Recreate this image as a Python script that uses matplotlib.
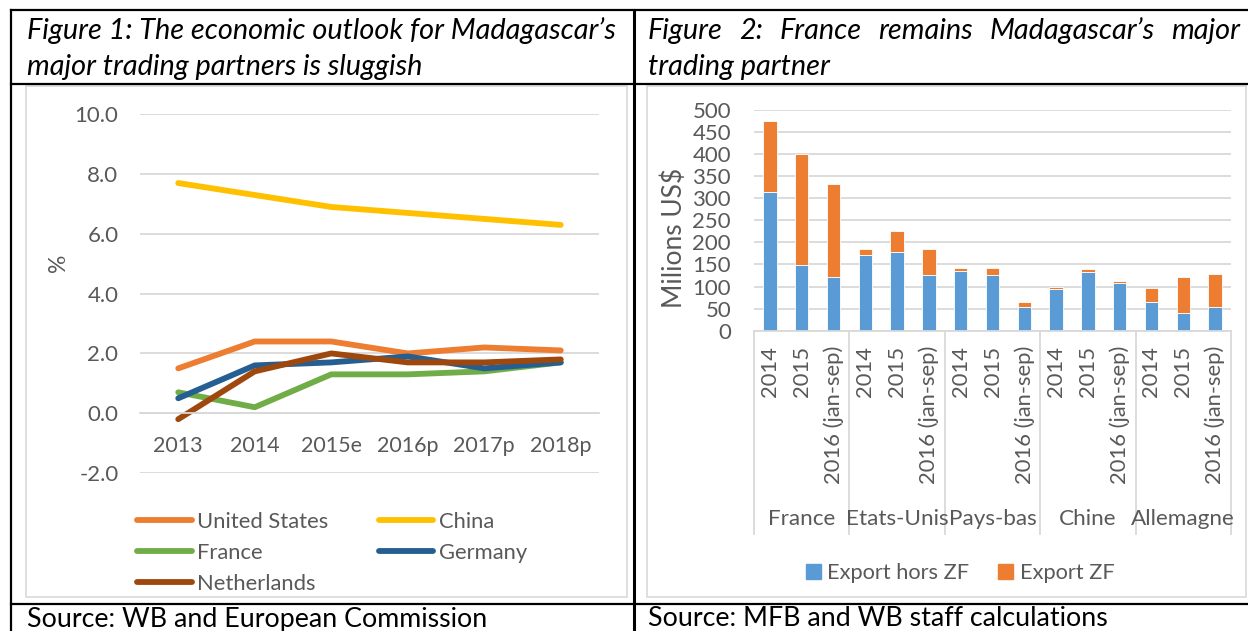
import matplotlib
matplotlib.use("Agg")
import matplotlib.pyplot as plt
from matplotlib.lines import Line2D
from matplotlib.patches import Rectangle, Patch
import numpy as np

plt.rcParams['font.family'] = ['Lato', 'DejaVu Sans']

# ---------------- data ----------------
years = ["2013", "2014", "2015e", "2016p", "2017p", "2018p"]
united_states = [1.5, 2.4, 2.4, 2.0, 2.2, 2.1]
china = [7.7, 7.3, 6.9, 6.7, 6.5, 6.3]
france = [0.7, 0.2, 1.3, 1.3, 1.4, 1.7]
germany = [0.5, 1.6, 1.7, 1.9, 1.5, 1.7]
netherlands = [-0.2, 1.4, 2.0, 1.7, 1.7, 1.8]

countries = ["France", "Etats-Unis", "Pays-bas", "Chine", "Allemagne"]
periods = ["2014", "2015", "2016 (jan-sep)"]
export_hors_zf = [315, 148, 122, 172, 178, 126, 136, 126, 54, 95, 134, 107, 64, 41, 54]
export_zf = [160, 252, 210, 12, 49, 59, 6, 16, 12, 3, 6, 6, 32, 80, 75]

title1 = ["Figure 1: The economic outlook for Madagascar\u2019s", "major trading partners is sluggish"]
title2_line1 = ["Figure", "2:", "France", "remains", "Madagascar\u2019s", "major"]
title2_line2 = "trading partner"
source1 = "Source: WB and European Commission"
source2 = "Source: MFB and WB staff calculations"

# ---------------- figure ----------------
W, H = 1248, 631
fig = plt.figure(figsize=(W / 100, H / 100), dpi=100)
fig.patch.set_facecolor("white")


def fx(px):
    return px / W


def fy(py):
    return 1 - py / H


TXT = "#595959"
GRID = "#D9D9D9"
FS = 15.5

# table lines
def hline(y, x0, x1, lw=1.6):
    fig.add_artist(Line2D([fx(x0), fx(x1)], [fy(y), fy(y)], color="black", lw=lw))


def vline(x, y0, y1, lw=1.6):
    fig.add_artist(Line2D([fx(x), fx(x)], [fy(y0), fy(y1)], color="black", lw=lw))

hline(10, 11, 1248)
hline(84, 11, 1248)
hline(604, 11, 1248)
vline(11, 10, 631)
vline(634, 10, 631, lw=2.2)

# chart frames
for (x0, x1) in [(26, 627), (647, 1246)]:
    fig.add_artist(Rectangle((fx(x0), fy(597)), fx(x1) - fx(x0), fy(86) - fy(597),
                             fill=False, edgecolor=GRID, lw=1.2))

# titles
tsize = 20.8
fig.text(fx(27), fy(31), title1[0], fontsize=tsize, style="italic", va="center", ha="left")
fig.text(fx(27), fy(67), title1[1], fontsize=tsize, style="italic", va="center", ha="left")
fig.text(fx(648), fy(67), title2_line2, fontsize=tsize, style="italic", va="center", ha="left")

# justified first line of title 2
words = [fig.text(0, fy(31), w, fontsize=tsize, style="italic", va="center", ha="left")
         for w in title2_line1]
fig.canvas.draw()
r = fig.canvas.get_renderer()
widths = [t.get_window_extent(r).width for t in words]
x_start, x_end = 648, 1240
gap = (x_end - x_start - sum(widths)) / (len(words) - 1)
xc = x_start
for t, wdt in zip(words, widths):
    t.set_x(fx(xc))
    xc += wdt + gap

ssize = 19.3
fig.text(fx(27), fy(619), source1, fontsize=ssize, va="center", ha="left")
fig.text(fx(648), fy(619), source2, fontsize=ssize, va="center", ha="left")

# ---------------- chart 1 ----------------
ax1 = fig.add_axes([fx(140), fy(473), fx(599) - fx(140), (473 - 114.3) / H])
x = np.arange(len(years))
series = [("United States", united_states, "#ED7D31"),
          ("China", china, "#FFC000"),
          ("France", france, "#70AD47"),
          ("Germany", germany, "#255E91"),
          ("Netherlands", netherlands, "#9E480E")]
handles = {}
for name, vals, col in series:
    ln, = ax1.plot(x, vals, color=col, lw=4.2, solid_capstyle="round", solid_joinstyle="round", label=name)
    handles[name] = ln
ax1.set_xlim(-0.5, len(years) - 0.5)
ax1.set_ylim(-2, 10)
ax1.set_yticks(np.arange(-2, 10.1, 2))
ax1.set_yticklabels([f"{v:.1f}" for v in np.arange(-2, 10.1, 2)])
ax1.grid(axis="y", color=GRID, lw=1.3)
ax1.set_axisbelow(True)
for s in ["top", "right", "left"]:
    ax1.spines[s].set_visible(False)
ax1.spines["bottom"].set_position(("data", 0))
ax1.spines["bottom"].set_color(GRID)
ax1.spines["bottom"].set_linewidth(1.3)
ax1.set_xticks(x)
ax1.set_xticklabels(years)
ax1.tick_params(axis="x", length=0, pad=16.5, labelsize=FS, labelcolor=TXT)
ax1.tick_params(axis="y", length=0, pad=15.5, labelsize=FS + 0.5, labelcolor=TXT)
ax1.set_ylabel("%", fontsize=FS + 1, color=TXT)
ax1.yaxis.set_label_coords((69 - 140) / (599 - 140), (473 - 263) / (473 - 114.3))

order = ["United States", "France", "Netherlands", "China", "Germany"]
fig.legend([handles[n] for n in order], order, loc="upper left",
           bbox_to_anchor=(fx(137), fy(512)), ncol=2, frameon=False,
           fontsize=FS + 0.3, handlelength=2.5, handletextpad=0.23,
           columnspacing=2.3, labelspacing=0.5, labelcolor=TXT,
           borderaxespad=0, borderpad=0)

# ---------------- chart 2 ----------------
ax2 = fig.add_axes([fx(754), fy(330.7), (1231 - 754) / W, (330.7 - 110) / H])
xb = np.arange(len(export_hors_zf))
ax2.bar(xb, export_hors_zf, width=0.42, color="#5B9BD5", edgecolor="white", lw=0.6,
        label="Export hors ZF")
ax2.bar(xb, export_zf, width=0.42, bottom=export_hors_zf, color="#ED7D31",
        edgecolor="white", lw=0.6, label="Export ZF")
ax2.set_xlim(-0.5, len(xb) - 0.5)
ax2.set_ylim(0, 500)
ax2.set_yticks(np.arange(0, 501, 50))
ax2.grid(axis="y", color=GRID, lw=1.3)
ax2.set_axisbelow(True)
for s in ["top", "right", "left"]:
    ax2.spines[s].set_visible(False)
ax2.spines["bottom"].set_color(GRID)
ax2.spines["bottom"].set_linewidth(1.3)
ax2.set_xticks(xb)
ax2.set_xticklabels(periods * len(countries), rotation=90, va="top", ha="center")
ax2.tick_params(axis="x", length=0, pad=11, labelsize=FS + 0.3, labelcolor=TXT)
ax2.tick_params(axis="y", length=0, pad=16.5, labelsize=FS + 0.5, labelcolor=TXT)
ax2.set_ylabel("Milions US$", fontsize=19, color=TXT)
ax2.yaxis.set_label_coords((687 - 754) / (1231 - 754), (330.7 - 238) / 220.7)

trans = ax2.get_xaxis_transform()
sep_bottom = (330.7 - 534) / 220.7
for b in np.arange(-0.5, len(xb), 3):
    ax2.add_line(Line2D([b, b], [0, sep_bottom], transform=trans, color=GRID, lw=1.3,
                        clip_on=False))
for i, c in enumerate(countries):
    ax2.text(3 * i + 1, (330.7 - 519) / 220.7, c, transform=trans, ha="center",
             va="center", fontsize=FS + 0.7, color=TXT)

fig.legend(handles=[Patch(color="#5B9BD5", label="Export hors ZF"),
                    Patch(color="#ED7D31", label="Export ZF")],
           loc="center", bbox_to_anchor=(fx(960), fy(573)), ncol=2, frameon=False,
           fontsize=FS + 0.2, handlelength=0.7, handleheight=0.7, handletextpad=0.3,
           columnspacing=1.3, labelcolor=TXT)

fig.savefig("out.png", dpi=100, facecolor="white")
